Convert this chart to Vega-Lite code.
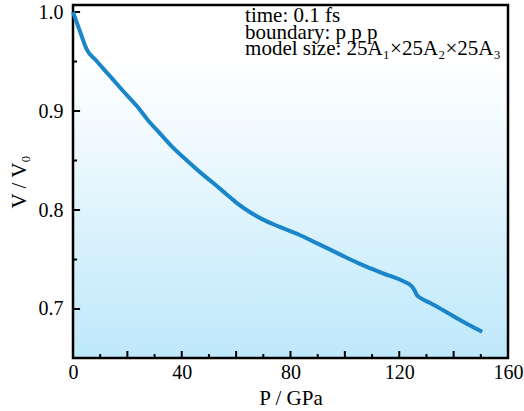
{
  "$schema": "https://vega.github.io/schema/vega-lite/v6.json",
  "autosize": "none",
  "width": 435,
  "height": 353,
  "padding": {"left": 73, "top": 5, "right": 16, "bottom": 53},
  "background": "white",
  "config": {
    "view": {"stroke": "black", "strokeWidth": 2.5, "fill": {"gradient": "linear", "x1": 0, "y1": 0, "x2": 0, "y2": 1, "stops": [
        {"offset": 0, "color": "#ffffff"},
        {"offset": 0.15, "color": "#ffffff"},
        {"offset": 0.44, "color": "#ebf8fe"},
        {"offset": 0.72, "color": "#d3f0fc"},
        {"offset": 1, "color": "#bee8fb"}
      ]}},
    "font": "Liberation Serif",
    "axis": {"labelFont": "Liberation Serif", "titleFont": "Liberation Serif", "labelColor": "black", "titleColor": "black", "tickColor": "black", "domainColor": "black", "grid": false, "zindex": 2, "labelFlush": false, "labelOverlap": false}
  },
  "datasets": {
    "curve": [
      {"P": 0, "V": 1.0},
      {"P": 2.5, "V": 0.981},
      {"P": 5.1, "V": 0.962},
      {"P": 8.5, "V": 0.951},
      {"P": 13.7, "V": 0.935},
      {"P": 18.5, "V": 0.920},
      {"P": 23.5, "V": 0.905},
      {"P": 27.5, "V": 0.891},
      {"P": 32.1, "V": 0.877},
      {"P": 36.8, "V": 0.863},
      {"P": 41.9, "V": 0.850},
      {"P": 46.8, "V": 0.838},
      {"P": 51.7, "V": 0.827},
      {"P": 56.0, "V": 0.817},
      {"P": 60.3, "V": 0.807},
      {"P": 65.0, "V": 0.798},
      {"P": 70.1, "V": 0.790},
      {"P": 76.0, "V": 0.783},
      {"P": 82.4, "V": 0.776},
      {"P": 88.5, "V": 0.768},
      {"P": 94.6, "V": 0.760},
      {"P": 100.5, "V": 0.752},
      {"P": 106.8, "V": 0.744},
      {"P": 114.0, "V": 0.736},
      {"P": 121.5, "V": 0.728},
      {"P": 124.6, "V": 0.723},
      {"P": 125.6, "V": 0.719},
      {"P": 126.5, "V": 0.714},
      {"P": 128.5, "V": 0.710},
      {"P": 131.4, "V": 0.706},
      {"P": 136.0, "V": 0.699},
      {"P": 141.0, "V": 0.691},
      {"P": 145.5, "V": 0.684},
      {"P": 150.5, "V": 0.677}
    ],
    "notes": [
      {"P": 63.3, "V": 0.9902, "label": "time: 0.1 fs"},
      {"P": 63.3, "V": 0.9732, "label": "boundary: p p p"},
      {"P": 63.3, "V": 0.9566, "label": "model size: 25A₁×25A₂×25A₃"}
    ],
    "xMajor": [{"P": 0}, {"P": 20}, {"P": 40}, {"P": 60}, {"P": 80}, {"P": 100}, {"P": 120}, {"P": 140}, {"P": 160}],
    "xMinor": [{"P": 10}, {"P": 30}, {"P": 50}, {"P": 70}, {"P": 90}, {"P": 110}, {"P": 130}, {"P": 150}],
    "yMajor": [{"V": 0.7}, {"V": 0.8}, {"V": 0.9}, {"V": 1.0}],
    "yMinor": [{"V": 0.75}, {"V": 0.85}, {"V": 0.95}]
  },
  "layer": [
    {
      "data": {"name": "xMajor"},
      "mark": {"type": "rule", "color": "black", "strokeWidth": 2},
      "encoding": {
        "x": {"field": "P", "type": "quantitative", "axis": null},
        "y": {"datum": 0.6505, "type": "quantitative", "axis": null},
        "y2": {"datum": 0.6576}
      }
    },
    {
      "data": {"name": "xMinor"},
      "mark": {"type": "rule", "color": "black", "strokeWidth": 2},
      "encoding": {
        "x": {"field": "P", "type": "quantitative", "axis": null},
        "y": {"datum": 0.6505, "type": "quantitative", "axis": null},
        "y2": {"datum": 0.6545}
      }
    },
    {
      "data": {"name": "yMajor"},
      "mark": {"type": "rule", "color": "black", "strokeWidth": 2},
      "encoding": {
        "y": {"field": "V", "type": "quantitative", "axis": null},
        "x": {"datum": 0, "type": "quantitative", "axis": null},
        "x2": {"datum": 2.6}
      }
    },
    {
      "data": {"name": "yMinor"},
      "mark": {"type": "rule", "color": "black", "strokeWidth": 2},
      "encoding": {
        "y": {"field": "V", "type": "quantitative", "axis": null},
        "x": {"datum": 0, "type": "quantitative", "axis": null},
        "x2": {"datum": 1.5}
      }
    },
    {
      "data": {"name": "curve"},
      "mark": {"type": "line", "color": "#1a86c9", "strokeWidth": 4, "interpolate": "monotone"},
      "encoding": {
        "x": {"field": "P", "type": "quantitative", "scale": {"domain": [0, 160], "nice": false, "zero": false}, "axis": null},
        "y": {"field": "V", "type": "quantitative", "scale": {"domain": [0.6505, 1.0071], "nice": false, "zero": false}, "axis": null}
      }
    },
    {
      "data": {"name": "notes"},
      "mark": {"type": "text", "align": "left", "baseline": "alphabetic", "font": "Liberation Serif", "fontSize": 21, "color": "black"},
      "encoding": {
        "x": {"field": "P", "type": "quantitative",
          "axis": {"orient": "bottom", "zindex": 2, "domain": false, "values": [0, 40, 80, 120, 160], "ticks": false, "labelFontSize": 20, "labelPadding": 4, "title": "P / GPa", "titleFontSize": 21, "titleFontWeight": "normal", "titlePadding": 5}},
        "y": {"field": "V", "type": "quantitative",
          "axis": {"orient": "left", "zindex": 2, "domain": false, "values": [0.7, 0.8, 0.9, 1.0], "format": ".1f", "ticks": false, "labelFontSize": 20, "labelPadding": 10, "title": "V / V₀", "titleFontSize": 21, "titleFontWeight": "normal", "titlePadding": 9}},
        "text": {"field": "label"}
      }
    }
  ],
  "resolve": {"axis": {"x": "independent", "y": "independent"}}
}
